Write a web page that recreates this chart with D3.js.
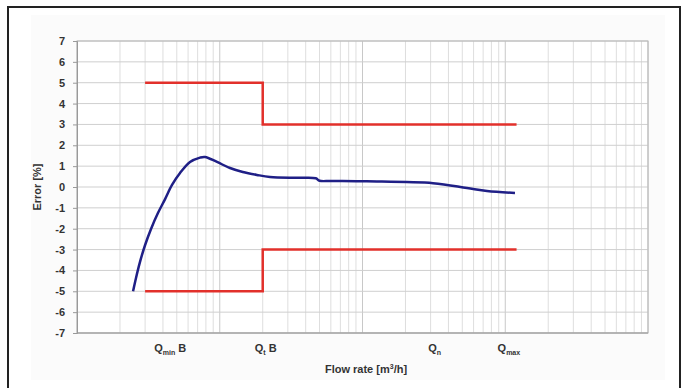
<!DOCTYPE html>
<html>
<head>
<meta charset="utf-8">
<script src="https://cdn.jsdelivr.net/npm/d3@7"></script>
<style>
  body { margin: 0; background: #fff; }
  text { font-family: "Liberation Sans", Arial, sans-serif; font-weight: bold; fill: #333; }
</style>
</head>
<body>
<div id="container"></div>
<script>
// measured error curve [flow, error %]
const flow = [0.0247, 0.0259, 0.0276, 0.030, 0.033, 0.0369, 0.0414, 0.0463, 0.0527, 0.0619, 0.0727, 0.0788,
              0.0957, 0.118, 0.145, 0.182, 0.225, 0.35, 0.47, 0.50, 0.60, 1.07, 3.12, 5.4, 7.45, 11.7];
const error = [-5.0, -4.36, -3.6, -2.78, -2.01, -1.25, -0.58, 0.1, 0.67, 1.2, 1.41, 1.44,
               1.2, 0.91, 0.72, 0.58, 0.48, 0.44, 0.42, 0.3, 0.29, 0.27, 0.18, -0.05, -0.19, -0.29];

// tolerance limits (step lines)
const limitFlow = [0.03, 0.2, 0.2, 12];
const upperLimit = [5, 5, 3, 3];
const lowerLimit = [-5, -5, -3, -3];

// x labels (main text, subscript, suffix) and where they sit
const qLabels = [["Q", "min", " B"], ["Q", "t", " B"], ["Q", "n", ""], ["Q", "max", ""]];
const qLabelAt = [0.045, 0.21, 3.2, 10.6];

const yTicks = d3.range(-7, 8);

var width = 696, height = 388;
var margin = { left: 77, right: 48, top: 41, bottom: 55 };

const svg = d3.select("#container").append("svg")
    .attr("width", width)
    .attr("height", height);

// outer frame
svg.append("rect")
    .attr("x", 31).attr("y", 15).attr("width", 634).attr("height", 365)
    .attr("fill", "#fbfbfb");
svg.append("rect")
    .attr("x", 8).attr("y", 7).attr("width", 672).attr("height", 400)
    .attr("fill", "none").attr("stroke", "#222").attr("stroke-width", 2);

const x = d3.scaleLog().domain([0.01, 100]).range([margin.left, width - margin.right]);
const y = d3.scaleLinear().domain([-7, 7]).range([height - margin.bottom, margin.top]);

svg.append("rect")
    .attr("x", x.range()[0]).attr("y", y(7))
    .attr("width", x.range()[1] - x.range()[0]).attr("height", y(-7) - y(7))
    .attr("fill", "#fff");

// log grid
var minor = [];
[0.01, 0.1, 1, 10].forEach(d => { for (var k = 1; k < 10; k++) minor.push(d * k); });
minor.push(100);

svg.append("g")
    .selectAll("line")
    .data(minor)
    .join("line")
    .attr("x1", d => x(d)).attr("x2", d => x(d))
    .attr("y1", y(7)).attr("y2", y(-7))
    .attr("stroke", d => Math.abs(Math.log10(d) % 1) < 1e-6 ? "#c8c8c8" : "#dedede")
    .attr("stroke-width", 1);

svg.append("g")
    .selectAll("line")
    .data(yTicks)
    .join("line")
    .attr("x1", x.range()[0]).attr("x2", x.range()[1])
    .attr("y1", d => y(d)).attr("y2", d => y(d))
    .attr("stroke", "#cfcfcf");

// plot border
svg.append("rect")
    .attr("x", x.range()[0]).attr("y", y(7))
    .attr("width", x.range()[1] - x.range()[0]).attr("height", y(-7) - y(7))
    .attr("fill", "none").attr("stroke", "#b8b8b8");

// y axis
const yAxis = svg.append("g")
    .attr("transform", `translate(${margin.left},0)`)
    .call(d3.axisLeft(y).tickValues(yTicks).tickFormat(d => String(d)).tickSize(4).tickPadding(8));
yAxis.select(".domain").attr("stroke", "#999");
yAxis.selectAll(".tick line").attr("stroke", "#999");
yAxis.selectAll("text").attr("font-size", 11).attr("font-family", null).attr("fill", "#333");

svg.append("line")
    .attr("x1", x.range()[0]).attr("x2", x.range()[1])
    .attr("y1", y(-7)).attr("y2", y(-7))
    .attr("stroke", "#999");

// limits
const lineGen = d3.line().x(d => x(d[0])).y(d => y(d[1]));
[upperLimit, lowerLimit].forEach(lim => {
    svg.append("path")
        .datum(limitFlow.map((f, i) => [f, lim[i]]))
        .attr("d", lineGen)
        .attr("fill", "none")
        .attr("stroke", "#e2302b")
        .attr("stroke-width", 2.5);
});

// error curve
svg.append("path")
    .datum(flow.map((f, i) => [f, error[i]]))
    .attr("d", d3.line().x(d => x(d[0])).y(d => y(d[1])).curve(d3.curveCatmullRom.alpha(0.5)))
    .attr("fill", "none")
    .attr("stroke", "#1f1f86")
    .attr("stroke-width", 2.5);

// Q labels
const ql = svg.append("g")
    .selectAll("text")
    .data(qLabels)
    .join("text")
    .attr("x", (d, i) => x(qLabelAt[i]))
    .attr("y", 352)
    .attr("text-anchor", "middle")
    .attr("font-size", 11);
ql.append("tspan").text(d => d[0]);
ql.append("tspan").attr("font-size", 7).attr("dy", 3).text(d => d[1]);
ql.append("tspan").attr("dy", -3).text(d => d[2]);

// axis titles
const xt = svg.append("text")
    .attr("x", 366).attr("y", 373)
    .attr("text-anchor", "middle")
    .attr("font-size", 11);
xt.append("tspan").text("Flow rate [m");
xt.append("tspan").attr("font-size", 7).attr("dy", -4).text("3");
xt.append("tspan").attr("dy", 4).text("/h]");

svg.append("text")
    .attr("transform", `translate(41,${y(0)}) rotate(-90)`)
    .attr("text-anchor", "middle")
    .attr("font-size", 11)
    .text("Error [%]");
</script>
</body>
</html>
